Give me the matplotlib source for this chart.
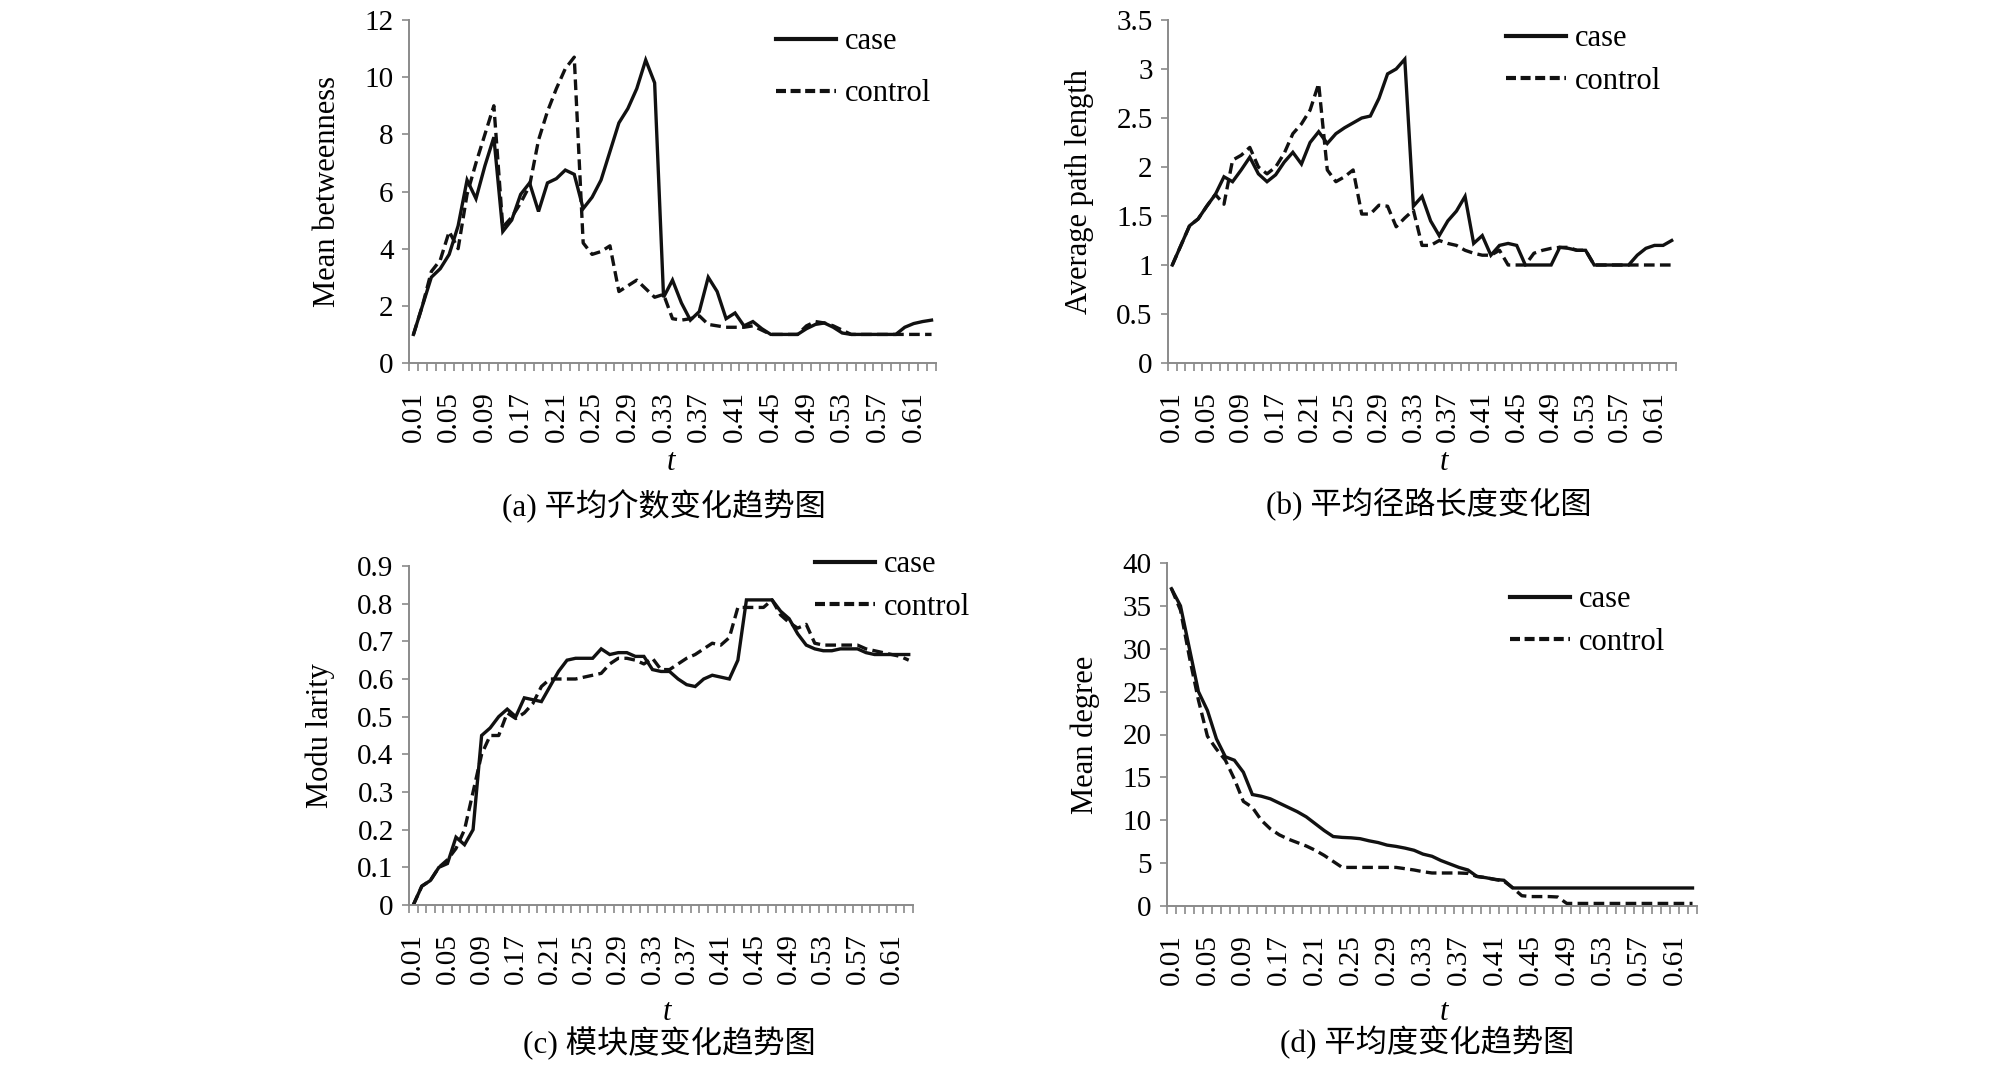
import numpy as np
import matplotlib.pyplot as plt
from matplotlib.lines import Line2D

# x axis: t categories (59 points), labels shown every 4th category
t_labels = ['0.01', '0.05', '0.09', '0.17', '0.21', '0.25', '0.29', '0.33',
            '0.37', '0.41', '0.45', '0.49', '0.53', '0.57', '0.61']

# (a) mean betweenness
case_a = [1.0, 2.0, 3.0, 3.3, 3.8, 4.8, 6.4, 5.75, 6.9, 7.9,
          4.6, 5.0, 5.9, 6.3, 5.3, 6.3, 6.45, 6.75, 6.6, 5.4,
          5.8, 6.4, 7.4, 8.4, 8.9, 9.6, 10.6, 9.8, 2.3, 2.9,
          2.1, 1.5, 1.8, 3.0, 2.5, 1.55, 1.75, 1.3, 1.45, 1.2,
          1.0, 1.0, 1.0, 1.0, 1.2, 1.35, 1.4, 1.25, 1.05, 1.0,
          1.0, 1.0, 1.0, 1.0, 1.0, 1.25, 1.38, 1.45, 1.5]
control_a = [1.0, 2.0, 3.2, 3.6, 4.6, 4.0, 5.9, 7.0, 8.0, 9.0,
             4.75, 5.1, 5.6, 6.2, 7.8, 8.8, 9.6, 10.3, 10.7, 4.2,
             3.8, 3.9, 4.1, 2.5, 2.7, 2.9, 2.6, 2.3, 2.4, 1.55,
             1.5, 1.55, 1.65, 1.35, 1.3, 1.25, 1.25, 1.25, 1.3, 1.15,
             1.0, 1.0, 1.0, 1.0, 1.3, 1.45, 1.4, 1.3, 1.15, 1.0,
             1.0, 1.0, 1.0, 1.0, 1.0, 1.0, 1.0, 1.0, 1.0]

# (b) average path length
case_b = [1.0, 1.2, 1.4, 1.47, 1.6, 1.72, 1.9, 1.85, 1.97, 2.1,
          1.93, 1.85, 1.92, 2.05, 2.15, 2.03, 2.25, 2.36, 2.24, 2.34,
          2.4, 2.45, 2.5, 2.52, 2.7, 2.95, 3.0, 3.1, 1.6, 1.7,
          1.45, 1.3, 1.45, 1.55, 1.7, 1.22, 1.3, 1.1, 1.2, 1.22,
          1.2, 1.0, 1.0, 1.0, 1.0, 1.18, 1.17, 1.15, 1.15, 1.0,
          1.0, 1.0, 1.0, 1.0, 1.1, 1.17, 1.2, 1.2, 1.25]
control_b = [1.0, 1.2, 1.4, 1.47, 1.6, 1.72, 1.62, 2.07, 2.12, 2.2,
             2.0, 1.93, 2.0, 2.14, 2.34, 2.44, 2.58, 2.85, 1.97, 1.85,
             1.9, 1.97, 1.52, 1.52, 1.61, 1.6, 1.39, 1.48, 1.56, 1.2,
             1.2, 1.25, 1.22, 1.2, 1.15, 1.12, 1.1, 1.1, 1.15, 1.0,
             1.0, 1.0, 1.12, 1.15, 1.17, 1.18, 1.18, 1.15, 1.15, 1.0,
             1.0, 1.0, 1.0, 1.0, 1.0, 1.0, 1.0, 1.0, 1.0]

# (c) modularity
case_c = [0.0, 0.05, 0.065, 0.1, 0.11, 0.18, 0.16, 0.2, 0.45, 0.47,
          0.5, 0.52, 0.5, 0.55, 0.545, 0.54, 0.58, 0.62, 0.65, 0.655,
          0.655, 0.655, 0.68, 0.665, 0.67, 0.67, 0.66, 0.66, 0.625, 0.62,
          0.62, 0.6, 0.585, 0.58, 0.6, 0.61, 0.605, 0.6, 0.65, 0.81,
          0.81, 0.81, 0.81, 0.78, 0.76, 0.72, 0.69, 0.68, 0.675, 0.675,
          0.68, 0.68, 0.68, 0.67, 0.665, 0.665, 0.665, 0.665, 0.665]
control_c = [0.0, 0.05, 0.065, 0.1, 0.12, 0.15, 0.2, 0.3, 0.4, 0.45,
             0.45, 0.51, 0.495, 0.51, 0.535, 0.58, 0.6, 0.6, 0.6, 0.6,
             0.605, 0.61, 0.615, 0.64, 0.655, 0.655, 0.65, 0.64, 0.655, 0.625,
             0.625, 0.64, 0.655, 0.665, 0.68, 0.695, 0.69, 0.71, 0.79, 0.79,
             0.79, 0.79, 0.81, 0.77, 0.75, 0.735, 0.745, 0.695, 0.69, 0.69,
             0.69, 0.69, 0.69, 0.68, 0.675, 0.67, 0.665, 0.66, 0.65]

# (d) mean degree
case_d = [37, 35, 30, 25, 22.8, 19.5, 17.4, 17.0, 15.6, 13.0,
          12.8, 12.5, 12.0, 11.5, 11.0, 10.4, 9.6, 8.8, 8.1, 8.0,
          7.95, 7.85, 7.6, 7.4, 7.1, 6.95, 6.75, 6.5, 6.05, 5.8,
          5.3, 4.9, 4.5, 4.2, 3.45, 3.3, 3.1, 3.0, 2.1, 2.1,
          2.1, 2.1, 2.1, 2.1, 2.1, 2.1, 2.1, 2.1, 2.1, 2.1,
          2.1, 2.1, 2.1, 2.1, 2.1, 2.1, 2.1, 2.1, 2.1]
control_d = [37, 34.5, 29, 24, 19.8, 18.3, 17.0, 14.8, 12.2, 11.5,
             10.0, 9.0, 8.3, 7.8, 7.4, 7.0, 6.5, 5.9, 5.2, 4.5,
             4.5, 4.5, 4.5, 4.5, 4.5, 4.5, 4.35, 4.2, 4.0, 3.85,
             3.85, 3.85, 3.85, 3.8, 3.45, 3.3, 3.1, 2.9, 2.1, 1.2,
             1.1, 1.1, 1.1, 1.05, 0.3, 0.3, 0.3, 0.3, 0.3, 0.3,
             0.3, 0.3, 0.3, 0.3, 0.3, 0.3, 0.3, 0.3, 0.3]

yticks_a = [0, 2, 4, 6, 8, 10, 12]
yticks_b = [0, 0.5, 1, 1.5, 2, 2.5, 3, 3.5]
yticks_c = [0, 0.1, 0.2, 0.3, 0.4, 0.5, 0.6, 0.7, 0.8, 0.9]
yticks_d = [0, 5, 10, 15, 20, 25, 30, 35, 40]

W, H = 2008, 1067
serif = ['Liberation Serif', 'DejaVu Serif']
cjk = ['Liberation Serif', 'Noto Sans CJK SC', 'DejaVu Sans']
fs = 21
grey = '#8a8a8a'
dash = (0, (3.2, 1.6))

fig = plt.figure(figsize=(W / 100, H / 100), dpi=100)
fig.patch.set_facecolor('white')


def px_axes(x0, x1, ytop, ybot):
    return fig.add_axes([x0 / W, 1 - ybot / H, (x1 - x0) / W, (ybot - ytop) / H])


def draw(ax, case, control, yticks, ylabel, leg_xy, spacing):
    x = np.arange(len(case))
    ax.plot(x, case, color='#111111', lw=2.4, solid_joinstyle='miter')
    ax.plot(x, control, color='#111111', lw=2.4, linestyle=dash)
    ax.set_xlim(-0.5, len(case) - 0.5)
    ax.set_ylim(yticks[0], yticks[-1])
    ax.set_yticks(yticks)
    ax.set_yticklabels(['%g' % v for v in yticks], fontsize=fs, family=serif)
    ax.set_xticks(np.arange(0, len(case), 4)[:len(t_labels)])
    ax.set_xticklabels(t_labels, rotation=90, fontsize=fs, family=serif)
    ax.set_xticks(np.arange(-0.5, len(case)), minor=True)
    ax.tick_params(axis='x', which='major', length=0, pad=20)
    ax.tick_params(axis='x', which='minor', length=6, width=1.2, color=grey)
    ax.tick_params(axis='y', length=5, width=1.2, color=grey, pad=6)
    for s in ['top', 'right']:
        ax.spines[s].set_visible(False)
    for s in ['left', 'bottom']:
        ax.spines[s].set_color(grey)
        ax.spines[s].set_linewidth(1.4)
    ax.set_ylabel(ylabel, fontsize=fs + 1, family=serif, labelpad=16)
    handles = [Line2D([], [], color='#111111', lw=3),
               Line2D([], [], color='#111111', lw=3, linestyle=(0, (2.4, 1.1)))]
    ax.legend(handles, ['case', 'control'], loc='upper left',
              bbox_to_anchor=(leg_xy[0] / W, 1 - leg_xy[1] / H),
              bbox_transform=fig.transFigure, frameon=False, borderpad=0,
              handlelength=1.95, handletextpad=0.3, labelspacing=spacing,
              prop={'family': serif, 'size': fs + 1})


ax_a = px_axes(409, 936, 20, 363)
draw(ax_a, case_a, control_a, yticks_a, 'Mean betweenness', (761, 12), 0.75)
ax_b = px_axes(1168, 1676, 20, 363)
draw(ax_b, case_b, control_b, yticks_b, 'Average path length', (1491, 9), 0.45)
ax_c = px_axes(409, 913, 566, 905)
draw(ax_c, case_c, control_c, yticks_c, 'Modu larity', (800, 535), 0.45)
ax_d = px_axes(1167, 1697, 563, 906)
draw(ax_d, case_d, control_d, yticks_d, 'Mean degree', (1495, 570), 0.45)

# t labels and captions
for xc, yc in [(671, 462), (1444, 462), (667, 1012), (1444, 1012)]:
    fig.text(xc / W, 1 - yc / H, 't', fontsize=fs + 1, family=serif,
             style='italic', ha='center', va='center')

captions = ['(a) 平均介数变化趋势图', '(b) 平均径路长度变化图',
            '(c) 模块度变化趋势图', '(d) 平均度变化趋势图']
for cap, (xc, yc) in zip(captions, [(664, 505), (1429, 505), (669, 1043), (1427, 1043)]):
    fig.text(xc / W, 1 - yc / H, cap, fontsize=22.5, family=cjk,
             ha='center', va='center')

fig.savefig('out.png', dpi=100, facecolor='white')
